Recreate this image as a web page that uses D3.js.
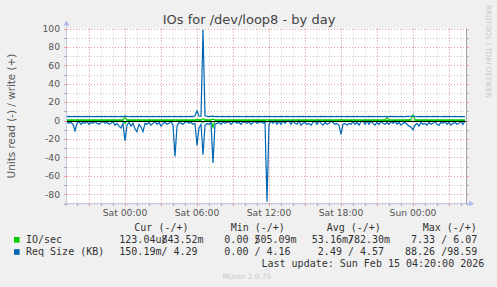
<!DOCTYPE html>
<html>
<head>
<meta charset="utf-8">
<script src="https://cdn.jsdelivr.net/npm/d3@7/dist/d3.min.js"></script>
<style>
body { margin: 0; background: #f0f0f0; }
text { font-family: "DejaVu Sans", sans-serif; }
.mono { font-family: "DejaVu Sans Mono", monospace; white-space: pre; }
</style>
</head>
<body>
<svg id="chart" width="497" height="287"></svg>
<script>
// one sample every 10 minutes, first sample Fri 13 Feb 19:10
let startTime = new Date(2026, 1, 13, 19, 10);
let endTime = new Date(2026, 1, 15, 4, 30);
let stepMinutes = 10;

let reqRead = [
    1.5, 3, 2, 4, 11, 3, 1, 4, 2, 3, 1, 4, 2, 3, 1, 3, 4, 2, 1, 3,
    2, 4, 3, 1, 5, 3, 6, 8, 3, 22, 5, 2, 6, 3, 9, 12, 4, 7, 12, 3,
    4, 2, 5, 3, 1, 4, 2, 6, 3, 2, 4, 3, 1, 5, 39, 6, 2, 3, 4, 2,
    1, 3, 2, 4, 3, 27, 8, 4, 37, 5, 3, 4, 2, 46, 4, 3, 2, 4, 1, 3,
    2, 1, 4, 2, 1, 3, 2, 4, 1, 2, 3, 1, 4, 2, 1, 3, 2, 1, 3, 2,
    88, 4, 0.5, 3, 0.3, 4, 0.5, 4, 0.3, 3, 0.5, 0.3, 4, 0.5, 3, 4, 0.3, 5, 3, 2,
    4, 3, 5, 2, 0.5, 4, 0.3, 3, 5, 2, 4, 3, 0.5, 2, 4, 3, 5, 15, 4, 3,
    5, 3, 4, 1, 4, 2, 5, 1, 0.5, 4, 0.3, 4, 0.5, 3, 5, 2, 4, 1, 3, 4,
    2, 4, 1, 3, 0.5, 4, 2, 5, 3, 2, 4, 6, 7, 10, 5, 3, 6, 2, 4, 3,
    5, 2, 4, 3, 1, 4, 5, 2, 3, 1, 4, 2, 5, 3, 2, 4, 3, 1, 4, 0.15
];

let reqWrite = [
    4.4, 4.5, 4.4, 4.3, 4.5, 4.4, 4.6, 4.4, 4.3, 4.5, 4.4, 4.5, 4.4, 4.3, 4.4, 4.5, 4.4, 4.6, 4.4, 4.5,
    4.4, 4.3, 4.5, 4.4, 4.5, 4.4, 4.3, 4.6, 4.4, 4.9, 4.5, 4.4, 4.3, 4.5, 4.4, 4.6, 4.4, 4.5, 4.4, 4.3,
    4.5, 4.4, 4.4, 4.6, 4.3, 4.4, 4.5, 4.4, 4.3, 4.5, 4.4, 4.6, 4.4, 4.3, 4.5, 4.4, 4.4, 4.5, 4.3, 4.4,
    4.5, 4.4, 4.6, 4.4, 5.2, 10.5, 5.0, 4.6, 98.59, 5.5, 4.5, 4.4, 4.6, 4.8, 4.4, 4.5, 4.3, 4.4, 4.5, 4.4,
    4.4, 4.5, 4.3, 4.4, 4.5, 4.4, 4.6, 4.4, 4.3, 4.4, 4.5, 4.4, 4.3, 4.5, 4.4, 4.4, 4.6, 4.4, 4.3, 4.5,
    4.4, 4.5, 4.4, 4.3, 4.5, 4.4, 4.4, 4.6, 4.4, 4.3, 4.5, 4.4, 4.4, 4.5, 4.3, 4.4, 4.5, 4.4, 4.6, 4.4,
    4.3, 4.5, 4.4, 4.4, 4.5, 4.3, 4.4, 4.6, 4.4, 4.5, 4.4, 4.3, 4.5, 4.4, 4.4, 4.6, 4.4, 4.5, 4.3, 4.4,
    4.5, 4.4, 4.3, 4.5, 4.4, 4.6, 4.4, 4.4, 4.5, 4.3, 4.4, 4.5, 4.4, 4.6, 4.4, 4.3, 4.5, 4.4, 4.4, 4.5,
    4.3, 4.4, 4.5, 4.4, 4.6, 4.4, 4.3, 4.5, 4.4, 4.4, 4.5, 4.6, 4.7, 4.9, 4.5, 4.4, 4.3, 4.5, 4.4, 4.4,
    4.5, 4.3, 4.4, 4.6, 4.4, 4.5, 4.4, 4.3, 4.4, 4.5, 4.4, 4.6, 4.4, 4.3, 4.5, 4.4, 4.4, 4.3, 4.4, 4.29
];

let ioRead = [
    0.05, 0.04, 0.06, 0.05, 0.2, 0.05, 0.04, 0.06, 0.05, 0.04, 0.05, 0.06, 0.04, 0.05, 0.05, 0.04, 0.06, 0.05, 0.04, 0.05,
    0.05, 0.06, 0.04, 0.05, 0.1, 0.05, 0.08, 0.1, 0.06, 3.0, 0.08, 0.05, 0.06, 0.05, 0.1, 0.2, 0.05, 0.06, 0.2, 0.05,
    0.05, 0.04, 0.06, 0.05, 0.04, 0.05, 0.05, 0.06, 0.04, 0.05, 0.05, 0.04, 0.05, 0.06, 0.6, 0.05, 0.04, 0.05, 0.06, 0.05,
    0.04, 0.05, 0.05, 0.06, 0.1, 0.5, 0.1, 0.08, 2.0, 0.1, 0.05, 0.06, 0.3, 7.33, 0.1, 0.05, 0.04, 0.05, 0.06, 0.05,
    0.05, 0.04, 0.06, 0.05, 0.04, 0.05, 0.05, 0.06, 0.04, 0.05, 0.05, 0.04, 0.06, 0.05, 0.04, 0.05, 0.05, 0.06, 0.04, 0.05,
    1.2, 0.05, 0.02, 0.04, 0.02, 0.05, 0.02, 0.05, 0.02, 0.04, 0.02, 0.02, 0.05, 0.02, 0.04, 0.05, 0.02, 0.06, 0.04, 0.03,
    0.05, 0.04, 0.06, 0.03, 0.02, 0.05, 0.02, 0.04, 0.06, 0.03, 0.05, 0.04, 0.02, 0.03, 0.05, 0.04, 0.06, 0.3, 0.05, 0.04,
    0.06, 0.04, 0.05, 0.02, 0.05, 0.03, 0.06, 0.02, 0.02, 0.05, 0.02, 0.05, 0.02, 0.04, 0.06, 0.03, 0.05, 0.02, 0.04, 0.05,
    0.03, 0.05, 0.02, 0.04, 0.02, 0.05, 0.03, 0.06, 0.04, 0.03, 0.05, 0.1, 0.3, 1.0, 0.2, 0.04, 0.1, 0.03, 0.05, 0.04,
    0.06, 0.03, 0.05, 0.04, 0.02, 0.05, 0.06, 0.03, 0.04, 0.02, 0.05, 0.03, 0.06, 0.04, 0.03, 0.05, 0.04, 0.02, 0.05, 0.0001
];

let ioWrite = [
    0.8, 0.7, 0.9, 0.8, 0.8, 0.7, 0.8, 0.9, 0.7, 0.8, 0.8, 0.7, 0.9, 0.8, 0.7, 0.8, 0.9, 0.8, 0.7, 0.8,
    0.8, 0.9, 0.7, 0.8, 0.8, 0.7, 0.9, 0.8, 1.2, 3.5, 1.0, 0.8, 0.7, 0.9, 0.8, 0.7, 0.8, 0.9, 0.8, 0.7,
    0.8, 0.8, 0.7, 0.9, 0.8, 0.7, 0.8, 0.8, 0.9, 0.7, 0.8, 0.8, 0.7, 0.9, 0.8, 0.7, 0.8, 0.9, 0.8, 0.7,
    0.8, 0.9, 0.7, 0.8, 0.9, 1.2, 1.0, 0.9, 2.0, 1.0, 0.8, 0.9, 1.1, 1.6, 0.9, 0.8, 0.7, 0.8, 0.9, 0.8,
    0.7, 0.8, 0.9, 0.8, 0.7, 0.8, 0.8, 0.9, 0.7, 0.8, 0.8, 0.7, 0.9, 0.8, 0.7, 0.8, 0.9, 0.8, 0.7, 0.8,
    0.9, 0.8, 0.7, 0.8, 0.8, 0.7, 0.9, 0.8, 0.7, 0.8, 0.9, 0.8, 0.7, 0.8, 0.8, 0.7, 0.9, 0.8, 0.7, 0.8,
    0.8, 0.7, 0.9, 0.8, 0.7, 0.8, 0.8, 0.9, 0.7, 0.8, 0.8, 0.7, 0.9, 0.8, 0.7, 0.8, 0.9, 1.0, 0.8, 0.7,
    0.8, 0.9, 0.7, 0.8, 0.8, 0.7, 0.9, 0.8, 0.7, 0.8, 0.9, 0.8, 0.7, 0.8, 0.8, 0.7, 0.9, 0.8, 0.7, 0.8,
    3.2, 0.9, 0.8, 0.7, 0.8, 0.9, 0.8, 0.7, 0.8, 0.9, 0.8, 1.0, 1.4, 6.07, 1.2, 0.8, 0.9, 0.8, 0.7, 0.8,
    0.9, 0.8, 0.7, 0.8, 0.8, 0.7, 0.9, 0.8, 0.7, 0.8, 0.9, 0.8, 0.7, 0.8, 0.8, 0.7, 0.9, 0.8, 0.7, 0.84
];

let yTickValues = [-80, -60, -40, -20, 0, 20, 40, 60, 80, 100];
let xTickLabels = ['Sat 00:00', 'Sat 06:00', 'Sat 12:00', 'Sat 18:00', 'Sun 00:00'];

let legendNames = ['IO/sec', 'Req Size (KB)'];
let legendHeaders = ['Cur (-/+)', 'Min (-/+)', 'Avg (-/+)', 'Max (-/+)'];
let legendCur = [['123.04u', '843.52m'], ['150.19m', '  4.29']];
let legendMin = [['  0.00 ', '505.09m'], ['  0.00 ', '  4.16']];
let legendAvg = [[' 53.16m', '782.30m'], ['  2.49 ', '  4.57']];
let legendMax = [['  7.33 ', '  6.07'], [' 88.26 ', ' 98.59']];
let lastUpdate = 'Last update: Sun Feb 15 04:20:00 2026';

let colors = { io: '#00cc00', req: '#0066b3' };

let svg = d3.select('#chart');
let plotLeft = 67, plotRight = 467, plotTop = 28.5, plotBottom = 203.5;

svg.append('rect')
    .attr('width', 497).attr('height', 287)
    .attr('fill', '#f0f0f0');

svg.append('rect')
    .attr('x', plotLeft).attr('y', plotTop)
    .attr('width', plotRight - plotLeft).attr('height', plotBottom - plotTop)
    .attr('fill', '#ffffff');

let x = d3.scaleTime().domain([startTime, endTime]).range([plotLeft, plotRight]);
let y = d3.scaleLinear().domain([-90, 100]).range([plotBottom, plotTop]);

let px = v => Math.round(v) + 0.5;

// grid
let grid = svg.append('g');
let minorX = x.ticks(d3.timeHour.every(1));
let majorX = x.ticks(d3.timeHour.every(3));
let minorY = d3.range(-90, 101, 10);

grid.selectAll('.vminor').data(minorX).enter().append('line')
    .attr('x1', d => px(x(d))).attr('x2', d => px(x(d)))
    .attr('y1', plotTop).attr('y2', plotBottom)
    .attr('stroke', '#c8c8c8').attr('stroke-dasharray', '1,2');

grid.selectAll('.hminor').data(minorY).enter().append('line')
    .attr('x1', plotLeft).attr('x2', plotRight)
    .attr('y1', d => px(y(d))).attr('y2', d => px(y(d)))
    .attr('stroke', '#c8c8c8').attr('stroke-dasharray', '1,2');

grid.selectAll('.vmajor').data(majorX).enter().append('line')
    .attr('x1', d => px(x(d))).attr('x2', d => px(x(d)))
    .attr('y1', plotTop).attr('y2', plotBottom)
    .attr('stroke', '#eba0a0').attr('stroke-dasharray', '1,2');

grid.selectAll('.hmajor').data(yTickValues).enter().append('line')
    .attr('x1', plotLeft).attr('x2', plotRight)
    .attr('y1', d => px(y(d))).attr('y2', d => px(y(d)))
    .attr('stroke', '#eba0a0').attr('stroke-dasharray', '1,2');

let toPoints = (arr, sign) => arr.map((v, i) => ({
    t: new Date(startTime.getTime() + i * stepMinutes * 60000),
    v: v * sign
}));

let line = d3.line()
    .x(d => x(d.t))
    .y(d => y(d.v));

let series = [
    { data: toPoints(ioRead, -1), color: colors.io },
    { data: toPoints(ioWrite, 1), color: colors.io },
    { data: toPoints(reqRead, -1), color: colors.req },
    { data: toPoints(reqWrite, 1), color: colors.req }
];

svg.append('g').selectAll('path')
    .data(series)
    .enter().append('path')
    .attr('d', d => line(d.data))
    .attr('fill', 'none')
    .attr('stroke', d => d.color)
    .attr('stroke-width', 1.2);

// zero line
svg.append('line')
    .attr('x1', plotLeft).attr('x2', plotRight)
    .attr('y1', px(y(0))).attr('y2', px(y(0)))
    .attr('stroke', '#000000').attr('stroke-width', 1);

// axes
let axisColor = '#c4c8e4';
let arrowColor = '#b0bcf0';

svg.append('line')
    .attr('x1', plotLeft - 0.5).attr('x2', plotLeft - 0.5)
    .attr('y1', plotBottom + 3).attr('y2', plotTop - 5)
    .attr('stroke', axisColor);
svg.append('line')
    .attr('x1', plotLeft - 3).attr('x2', plotRight + 3)
    .attr('y1', plotBottom).attr('y2', plotBottom)
    .attr('stroke', axisColor);
svg.append('path')
    .attr('d', `M${plotLeft - 3.5},${plotTop - 3} L${plotLeft - 0.5},${plotTop - 8} L${plotLeft + 2.5},${plotTop - 3} Z`)
    .attr('fill', arrowColor);
svg.append('path')
    .attr('d', `M${plotRight + 2},${plotBottom - 3} L${plotRight + 7},${plotBottom} L${plotRight + 2},${plotBottom + 3} Z`)
    .attr('fill', arrowColor);

// right frame
svg.append('line')
    .attr('x1', plotRight - 0.5).attr('x2', plotRight - 0.5)
    .attr('y1', plotTop).attr('y2', plotBottom)
    .attr('stroke', '#a0a0a0');

svg.append('g').selectAll('line')
    .data(minorY).enter().append('line')
    .attr('x1', plotRight - 0.5).attr('x2', plotRight + 2)
    .attr('y1', d => px(y(d))).attr('y2', d => px(y(d)))
    .attr('stroke', d => d % 20 === 0 ? '#eba0a0' : '#b0b0b0');

svg.append('g').selectAll('line')
    .data(minorY).enter().append('line')
    .attr('x1', plotLeft - 3).attr('x2', plotLeft)
    .attr('y1', d => px(y(d))).attr('y2', d => px(y(d)))
    .attr('stroke', d => d % 20 === 0 ? '#eba0a0' : '#b0b0b0');

svg.append('g').selectAll('line')
    .data(minorX).enter().append('line')
    .attr('x1', d => px(x(d))).attr('x2', d => px(x(d)))
    .attr('y1', plotBottom).attr('y2', plotBottom + 2.5)
    .attr('stroke', d => d.getHours() % 3 === 0 ? '#eba0a0' : '#b0b0b0');

// tick labels
svg.append('g').selectAll('text')
    .data(yTickValues).enter().append('text')
    .attr('x', 60).attr('y', d => y(d) + 3.3)
    .attr('text-anchor', 'end')
    .attr('font-size', 9.2)
    .attr('fill', '#555555')
    .text(d => d);

let labelTimes = x.ticks(d3.timeHour.every(6));
svg.append('g').selectAll('text')
    .data(labelTimes).enter().append('text')
    .attr('x', d => x(d)).attr('y', 215.5)
    .attr('text-anchor', 'middle')
    .attr('font-size', 9.2)
    .attr('fill', '#555555')
    .text((d, i) => xTickLabels[i]);

// title and side texts
svg.append('text')
    .attr('x', 249).attr('y', 24)
    .attr('text-anchor', 'middle')
    .attr('font-size', 13)
    .attr('fill', '#444444')
    .text('IOs for /dev/loop8 - by day');

svg.append('text')
    .attr('transform', 'translate(14.5,116) rotate(-90)')
    .attr('text-anchor', 'middle')
    .attr('font-size', 10.4)
    .attr('fill', '#555555')
    .text('Units read (-) / write (+)');

svg.append('text')
    .attr('transform', 'translate(485.5,5) rotate(90)')
    .attr('font-size', 7.2)
    .attr('fill', '#c8c8c8')
    .text('RRDTOOL / TOBI OETIKER');

// legend
let colX = [119.3, 212.3, 305.8, 399];
let headX = [134.3, 230.7, 326.7, 422.7];
let rowY = [242.8, 255];
let cw = 6.02;

let legend = svg.append('g').attr('font-size', 10).attr('fill', '#333333');

legend.selectAll('.head').data(legendHeaders).enter().append('text')
    .attr('class', 'mono')
    .attr('x', (d, i) => headX[i]).attr('y', 230.5)
    .text(d => d);

legendNames.forEach((name, r) => {
    legend.append('rect')
        .attr('x', 14).attr('y', rowY[r] - 5.8)
        .attr('width', 5.6).attr('height', 5.6)
        .attr('fill', r === 0 ? colors.io : colors.req);
    legend.append('text')
        .attr('class', 'mono')
        .attr('x', 26).attr('y', rowY[r])
        .text(name);
    [legendCur, legendMin, legendAvg, legendMax].forEach((col, c) => {
        // write value starts on the slash column, as rrdtool prints it
        let cell = legend.append('text')
            .attr('class', 'mono')
            .attr('y', rowY[r]);
        cell.append('tspan')
            .attr('x', colX[c])
            .text(col[r][0] + (col[r][1][0] === ' ' ? '' : '/'));
        cell.append('tspan')
            .attr('x', colX[c] + 7 * cw)
            .text(col[r][1][0] === ' ' ? '/' + col[r][1].slice(1) : col[r][1]);
    });
});

legend.append('text')
    .attr('class', 'mono')
    .attr('x', 261.5).attr('y', 266.5)
    .text(lastUpdate);

svg.append('text')
    .attr('x', 222.5).attr('y', 279)
    .attr('font-size', 7.5)
    .attr('fill', '#c8c8c8')
    .text('Munin 2.0.76');
</script>
</body>
</html>
